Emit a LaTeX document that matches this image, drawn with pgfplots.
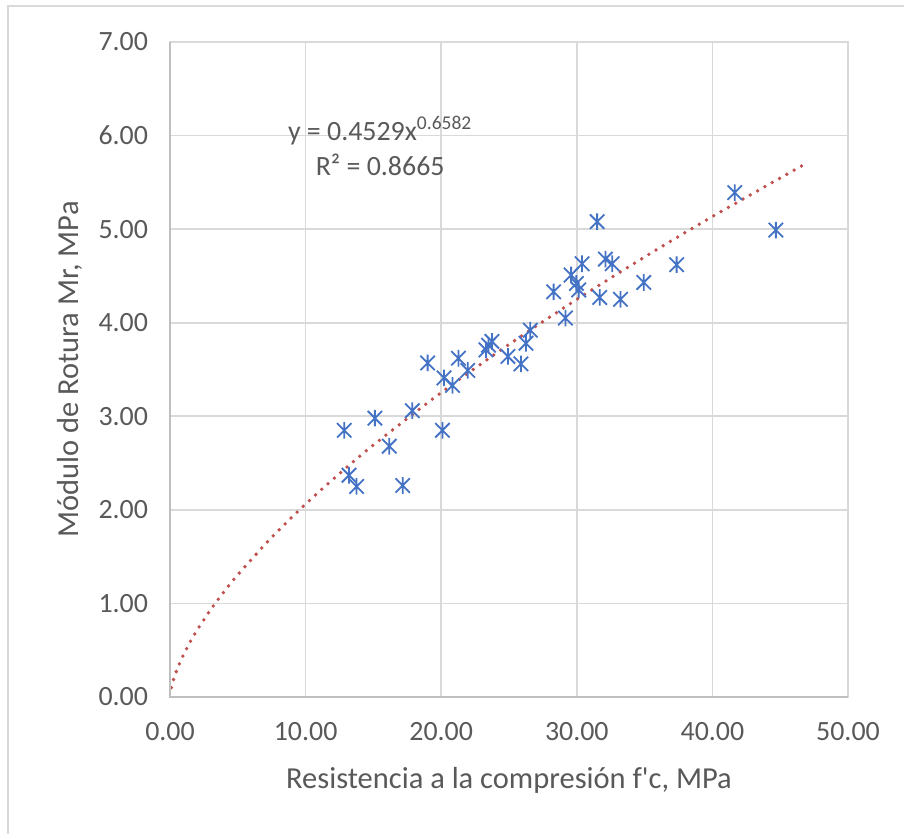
\documentclass[border=0pt]{standalone}
\usepackage{pgfplots}
\pgfplotsset{compat=1.18}
\usepackage{fontspec}
\setmainfont{Carlito}

\definecolor{txt}{RGB}{89,89,89}
\definecolor{gridc}{RGB}{217,217,217}
\definecolor{axc}{RGB}{191,191,191}
\definecolor{ptblue}{RGB}{68,114,196}
\definecolor{fitred}{RGB}{192,80,77}

% Excel-style star marker: an X with a vertical stroke
\pgfdeclareplotmark{xstar}{%
  \pgfpathmoveto{\pgfqpoint{-\pgfplotmarksize}{-\pgfplotmarksize}}%
  \pgfpathlineto{\pgfqpoint{\pgfplotmarksize}{\pgfplotmarksize}}%
  \pgfpathmoveto{\pgfqpoint{-\pgfplotmarksize}{\pgfplotmarksize}}%
  \pgfpathlineto{\pgfqpoint{\pgfplotmarksize}{-\pgfplotmarksize}}%
  \pgfpathmoveto{\pgfqpoint{0pt}{-1.15\pgfplotmarksize}}%
  \pgfpathlineto{\pgfqpoint{0pt}{1.15\pgfplotmarksize}}%
  \pgfusepathqstroke}

\pgfplotstableread{
fc     mr
12.85  2.85
15.11  2.98
13.20  2.37
13.76  2.25
16.17  2.68
17.16  2.26
17.87  3.06
19.00  3.57
20.09  2.85
20.21  3.41
20.83  3.33
21.27  3.62
21.96  3.49
23.30  3.71
23.49  3.76
23.74  3.80
24.92  3.64
25.88  3.56
26.25  3.78
26.57  3.92
28.29  4.33
29.16  4.05
29.58  4.51
29.97  4.42
30.14  4.35
30.39  4.63
31.50  5.08
31.69  4.27
32.11  4.68
32.61  4.63
33.22  4.25
34.94  4.43
37.36  4.62
41.65  5.39
44.68  4.99
}\datatable

% power trend line y = 0.4529 x^0.6582, values computed by hand
\pgfplotstableread{
x     y
0.10  0.0995
0.20  0.157
0.50  0.287
1.00  0.4529
1.50  0.5914
2.00  0.7147
3.00  0.9334
4.00  1.128
5.00  1.3064
7.50  1.706
10.0  2.0616
12.5  2.3877
15.0  2.6925
20.0  3.2536
25.0  3.768
30.0  4.2487
35.0  4.7025
40.0  5.1346
46.7  5.685
}\fittable

\begin{document}
\begin{tikzpicture}
\useasboundingbox (0,0) rectangle (452bp,417bp);
\draw[gridc, line width=0.8bp] (4bp,-5bp) -- (4bp,414bp) -- (460bp,414bp);
\begin{axis}[
  at={(85bp,68.5bp)}, anchor=south west,
  scale only axis,
  width=339bp, height=327.5bp,
  xmin=0, xmax=50, ymin=0, ymax=7,
  xtick={0,10,...,50}, ytick={0,1,...,7},
  grid=major,
  major grid style={gridc, line width=0.8bp},
  axis line style={draw=gridc, line width=0.8bp},
  major tick length=0pt,
  font=\fontsize{14}{17}\selectfont,
  every tick label/.append style={text=txt},
  label style={text=txt, font=\fontsize{15.3}{18}\selectfont},
  /pgf/number format/.cd, fixed, fixed zerofill, precision=2, assume math mode=true,
  /pgfplots/.cd,
  yticklabel style={anchor=east, xshift=-7.5bp},
  xticklabel style={anchor=north, yshift=-9bp},
  xlabel={Resistencia a la compresión f\textquotesingle c, MPa},
  ylabel={Módulo de Rotura Mr, MPa},
  xlabel style={at={(axis description cs:0.5,0)}, anchor=center, yshift=-41.5bp},
  ylabel style={at={([xshift=-50bp]axis description cs:0,0.5)}, anchor=center},
  clip=false,
]
\addplot[fitred, line width=1.9bp, line cap=round, dash pattern=on 0pt off 4.2bp, smooth]
  table[x=x, y=y] {\fittable};
\addplot[only marks, mark=xstar, mark size=3.6bp,
  mark options={ptblue, line width=0.9bp}]
  table[x=fc, y=mr] {\datatable};
\draw[axc, line width=1.1bp] (axis cs:0,7) -- (axis cs:0,0) -- (axis cs:50,0);
\node[text=txt, align=center, font=\fontsize{14}{17.5}\selectfont]
  at (axis cs:15.5,5.89) {y = 0.4529x\textsuperscript{0.6582}\\R² = 0.8665};
\end{axis}
\end{tikzpicture}
\end{document}
